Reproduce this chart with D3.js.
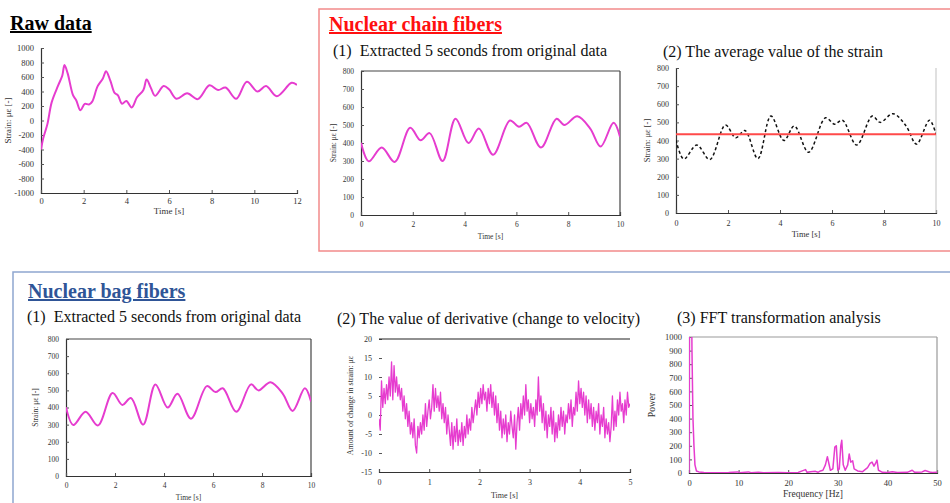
<!DOCTYPE html>
<html>
<head>
<meta charset="utf-8">
<script src="https://cdn.jsdelivr.net/npm/d3@7"></script>
<style>
  body { margin: 0; background: #fff; }
  svg text { font-family: "Liberation Serif", "Times New Roman", "DejaVu Serif", serif; }
</style>
</head>
<body>
<script>
// ---- data ----
var rawTime   = [0, 0.1, 0.3, 0.5, 0.8, 1.0, 1.1, 1.25, 1.5, 1.65, 1.85, 2.05, 2.25, 2.4, 2.65, 2.9, 3.05, 3.25, 3.45, 3.6, 3.8, 4.0, 4.25, 4.5, 4.8, 4.95, 5.15, 5.35, 5.75, 6.0, 6.35, 6.85, 7.35, 7.9, 8.3, 8.65, 9.15, 9.65, 10.15, 10.55, 11.05, 11.75, 12];
var rawStrain = [-400, -250, -50, 250, 480, 620, 765, 650, 350, 280, 140, 230, 220, 260, 470, 580, 680, 550, 380, 350, 230, 270, 180, 320, 420, 565, 450, 340, 475, 430, 300, 375, 295, 485, 420, 455, 300, 535, 400, 475, 335, 520, 490];

var cutTime   = [0, 0.3, 0.8, 1.3, 1.9, 2.3, 2.65, 3.15, 3.65, 4.15, 4.55, 5.1, 5.75, 6.1, 6.4, 6.95, 7.55, 7.85, 8.35, 8.85, 9.25, 9.75, 10];
var cutStrain = [402, 298, 375, 295, 485, 415, 455, 300, 535, 400, 480, 335, 525, 490, 512, 375, 535, 500, 548, 480, 380, 512, 435];
var avgStrain = 435;

// derivative, one value every 0.025 s from 0 to 5 s
var derivStep = 0.025;
var derivValues = [
  -1, -4, 9, 2, 7, 3, 8, 4, 10, 5, 14, 4, 13, 6, 10, 5, 8, 4, 7, 1,
  5, -1, 3, -3, 1, -5, -2, -6, -1, -8, -10, -3, -6, -2, -5, 0, -4, 3, -3, 1,
  4, -1, 2, 8, 1, 7, 2, 5, 1, 6, -1, 3, -2, 2, -5, 0, -4, -8, -2, -9,
  -3, -7, -1, -8, -4, -7, -2, -8, -3, -6, 0, -5, -1, -4, 2, -2, 1, 4, 0, 6,
  2, 7, 3, 8, 4, 6, 1, 7, 3, 8, 2, 6, 0, 5, -2, 3, -4, 1, -6, -1,
  -5, 0, -7, -2, -5, 1, -3, -6, 0, -9, -2, 2, -4, 3, -1, 5, 0, 8, 1, 4,
  -2, 3, -1, 2, -3, 4, 0, 10, 1, 5, -2, 3, -4, 1, -6, 0, -3, 2, -5, 1,
  -7, -2, -6, 0, -4, 2, -3, 1, -5, 0, -2, 3, -1, 4, -3, 2, 0, 6, 1, 9,
  3, 7, 2, 6, 0, 5, -2, 4, -1, 3, -3, 2, -4, 1, -2, 3, -5, 0, -3, 2,
  -6, -1, -5, -2, -7, -3, 5, -4, 1, -3, 4, 0, 6, 1, 3, -2, 4, 0, 6, 2,
  3
];

var fftFreq  = [0, 0.2, 0.4, 0.6, 0.8, 1.0, 1.2, 1.5, 2, 3, 5, 8, 9.8, 10.2, 12, 12.5, 14, 15, 18, 20, 22, 23.5, 23.8, 24.5, 25.5, 26, 26.5, 27, 27.5, 27.9, 28.2, 28.5, 29, 29.4, 29.7, 30, 30.3, 30.6, 30.8, 31.1, 31.5, 32, 32.3, 32.6, 33, 33.3, 34, 35, 36, 36.5, 36.9, 37.3, 37.6, 37.9, 38.2, 39, 40, 41, 42, 44, 45, 45.5, 47, 47.6, 48.5, 49, 50];
var fftPower = [0, 2400, 1800, 900, 400, 200, 60, 15, 8, 3, 2, 3, 8, 2, 8, 2, 5, 2, 3, 2, 4, 25, 5, 10, 12, 5, 15, 20, 60, 120, 70, 20, 30, 190, 200, 20, 30, 200, 240, 60, 20, 60, 140, 80, 90, 30, 15, 10, 40, 70, 80, 50, 70, 95, 20, 5, 3, 10, 3, 5, 20, 5, 8, 18, 8, 3, 5];

var magenta = "#e63ccf";
var serif = "Liberation Serif, Times New Roman, DejaVu Serif, serif";

var svg = d3.select("body").append("svg")
  .attr("width", 950)
  .attr("height", 503)
  .attr("font-family", serif);

// group boxes
svg.append("rect")
  .attr("x", 319).attr("y", 9).attr("width", 700).attr("height", 242)
  .attr("fill", "none").attr("stroke", "#f28a8a").attr("stroke-width", 1.5);
svg.append("rect")
  .attr("x", 13).attr("y", 272).attr("width", 1000).attr("height", 300)
  .attr("fill", "none").attr("stroke", "#8ea6d0").attr("stroke-width", 1.5);

function title(x, y, str, size, weight, color, underline) {
  svg.append("text")
    .attr("x", x).attr("y", y)
    .attr("font-family", serif)
    .attr("font-size", size)
    .attr("font-weight", weight)
    .attr("fill", color)
    .style("white-space", "pre")
    .style("text-decoration", underline ? "underline" : "none")
    .text(str);
}

title(10, 30, "Raw data", 20, "bold", "#000", true);
title(329, 31, "Nuclear chain fibers", 20, "bold", "#ff1010", true);
title(333, 56, "(1)  Extracted 5 seconds from original data", 16, "normal", "#111", false);
title(663, 57, "(2) The average value of the strain", 16, "normal", "#111", false);
title(28, 298, "Nuclear bag fibers", 20, "bold", "#2f5597", true);
title(27, 322, "(1)  Extracted 5 seconds from original data", 16, "normal", "#111", false);
title(337, 324, "(2) The value of derivative (change to velocity)", 16, "normal", "#111", false);
title(677, 323, "(3) FFT transformation analysis", 16, "normal", "#111", false);

var clipId = 0;
var plain = function(d) { return String(d); };

// one chart panel: p = plot area, returns scales and group
function panel(p) {
  var x = d3.scaleLinear().domain(p.xDomain).range([p.left, p.right]);
  var y = d3.scaleLinear().domain(p.yDomain).range([p.bottom, p.top]);
  var g = svg.append("g");

  var yAxis = g.append("g")
    .attr("transform", "translate(" + p.left + ",0)")
    .call(d3.axisLeft(y).tickValues(p.yTicks).tickFormat(plain).tickSize(-3).tickPadding(7));
  var xAxis = g.append("g")
    .attr("transform", "translate(0," + p.bottom + ")")
    .call(d3.axisBottom(x).tickValues(p.xTicks).tickFormat(plain).tickSize(-3).tickPadding(p.xPad || 7));

  g.selectAll(".tick text")
    .attr("font-family", serif)
    .attr("font-size", p.tickSize)
    .attr("fill", "#333");
  g.selectAll("g").attr("font-family", serif);
  g.selectAll(".tick line").attr("stroke", "#555");
  yAxis.select(".domain").attr("stroke", p.leftColor).attr("stroke-width", 1.2);
  xAxis.select(".domain").attr("stroke", "#333").attr("stroke-width", 1.2);
  if (!p.leftColor) yAxis.select(".domain").remove();

  if (p.topColor) {
    g.append("line")
      .attr("x1", p.left).attr("x2", p.right).attr("y1", p.top).attr("y2", p.top)
      .attr("stroke", p.topColor).attr("stroke-width", 1.2);
  }
  if (p.rightColor) {
    g.append("line")
      .attr("x1", p.right).attr("x2", p.right).attr("y1", p.top).attr("y2", p.bottom)
      .attr("stroke", p.rightColor).attr("stroke-width", 1.2);
  }

  g.append("text")
    .attr("x", (p.left + p.right) / 2).attr("y", p.xLabelY)
    .attr("text-anchor", "middle")
    .attr("font-size", p.labelSize).attr("fill", "#333")
    .text(p.xLabel);
  g.append("text")
    .attr("transform", "translate(" + p.yLabelX + "," + (p.top + p.bottom) / 2 + ") rotate(-90)")
    .attr("text-anchor", "middle")
    .attr("font-size", p.labelSize).attr("fill", "#333")
    .text(p.yLabel);

  clipId++;
  g.append("clipPath").attr("id", "clip" + clipId)
    .append("rect")
    .attr("x", p.left).attr("y", p.top)
    .attr("width", p.right - p.left).attr("height", p.bottom - p.top);

  return { g: g, x: x, y: y, clip: "url(#clip" + clipId + ")" };
}

function drawLine(c, xs, ys, curve, color, width, dash) {
  var pts = xs.map(function(d, i) { return [d, ys[i]]; });
  var line = d3.line()
    .x(function(d) { return c.x(d[0]); })
    .y(function(d) { return c.y(d[1]); })
    .curve(curve);
  c.g.append("path")
    .datum(pts)
    .attr("d", line)
    .attr("clip-path", c.clip)
    .attr("fill", "none")
    .attr("stroke", color)
    .attr("stroke-width", width)
    .attr("stroke-dasharray", dash || null)
    .attr("stroke-linejoin", "round");
}

var smooth = d3.curveCatmullRom.alpha(0.5);

// raw data
var raw = panel({
  left: 41, right: 297, top: 48, bottom: 193,
  xDomain: [0, 12], yDomain: [-1000, 1000],
  xTicks: d3.range(0, 13, 2), yTicks: d3.range(-1000, 1001, 200),
  tickSize: 8.5, labelSize: 9, leftColor: "#333", xPad: 5,
  xLabel: "Time [s]", xLabelY: 214, yLabel: "Strain: με [-]", yLabelX: 11
});
drawLine(raw, rawTime, rawStrain, smooth, magenta, 2);

// nuclear chain (1)
var chain1 = panel({
  left: 361, right: 620, top: 71, bottom: 215,
  xDomain: [0, 10], yDomain: [0, 800],
  xTicks: d3.range(0, 11, 2), yTicks: d3.range(0, 801, 100),
  tickSize: 7.5, labelSize: 7.5, leftColor: "#333", topColor: "#444", rightColor: "#444",
  xLabel: "Time [s]", xLabelY: 239, yLabel: "Strain: με [-]", yLabelX: 336
});
drawLine(chain1, cutTime, cutStrain, smooth, magenta, 2);

// nuclear chain (2)
var chain2 = panel({
  left: 676, right: 936, top: 68, bottom: 213,
  xDomain: [0, 10], yDomain: [0, 800],
  xTicks: d3.range(0, 11, 2), yTicks: d3.range(0, 801, 100),
  tickSize: 8, labelSize: 8.5, leftColor: "#333", rightColor: "#ccc",
  xLabel: "Time [s]", xLabelY: 237, yLabel: "Strain: με [-]", yLabelX: 650
});
drawLine(chain2, cutTime, cutStrain, smooth, "#111", 1.5, "3,2.5");
chain2.g.append("line")
  .attr("x1", chain2.x(0)).attr("x2", chain2.x(10))
  .attr("y1", chain2.y(avgStrain)).attr("y2", chain2.y(avgStrain))
  .attr("stroke", "#ff4a4a").attr("stroke-width", 2);

// nuclear bag (1)
var bag1 = panel({
  left: 66, right: 311, top: 339, bottom: 476,
  xDomain: [0, 10], yDomain: [0, 800],
  xTicks: d3.range(0, 11, 2), yTicks: d3.range(0, 801, 100),
  tickSize: 7.5, labelSize: 7.5, leftColor: "#333", topColor: "#444", rightColor: "#444",
  xLabel: "Time [s]", xLabelY: 500, yLabel: "Strain: με [-]", yLabelX: 38
});
drawLine(bag1, cutTime, cutStrain, smooth, magenta, 2);

// nuclear bag (2) derivative
var bag2 = panel({
  left: 379, right: 630, top: 339, bottom: 472,
  xDomain: [0, 5], yDomain: [-15, 20],
  xTicks: d3.range(0, 6, 1), yTicks: d3.range(-15, 21, 5),
  tickSize: 8, labelSize: 8, leftColor: null, topColor: "#222",
  xLabel: "Time [s]", xLabelY: 498, yLabel: "Amount of change in strain: με", yLabelX: 353
});
var derivTime = derivValues.map(function(d, i) { return i * derivStep; });
drawLine(bag2, derivTime, derivValues, d3.curveLinear, magenta, 1.3);

// nuclear bag (3) FFT
var bag3 = panel({
  left: 689, right: 937, top: 337, bottom: 473,
  xDomain: [0, 50], yDomain: [0, 1000],
  xTicks: d3.range(0, 51, 10), yTicks: d3.range(0, 1001, 100),
  tickSize: 8.5, labelSize: 9.5, leftColor: "#888", topColor: "#999", rightColor: "#999",
  xLabel: "Frequency [Hz]", xLabelY: 497, yLabel: "Power", yLabelX: 655
});
drawLine(bag3, fftFreq, fftPower, d3.curveLinear, magenta, 1.5);
</script>
</body>
</html>
